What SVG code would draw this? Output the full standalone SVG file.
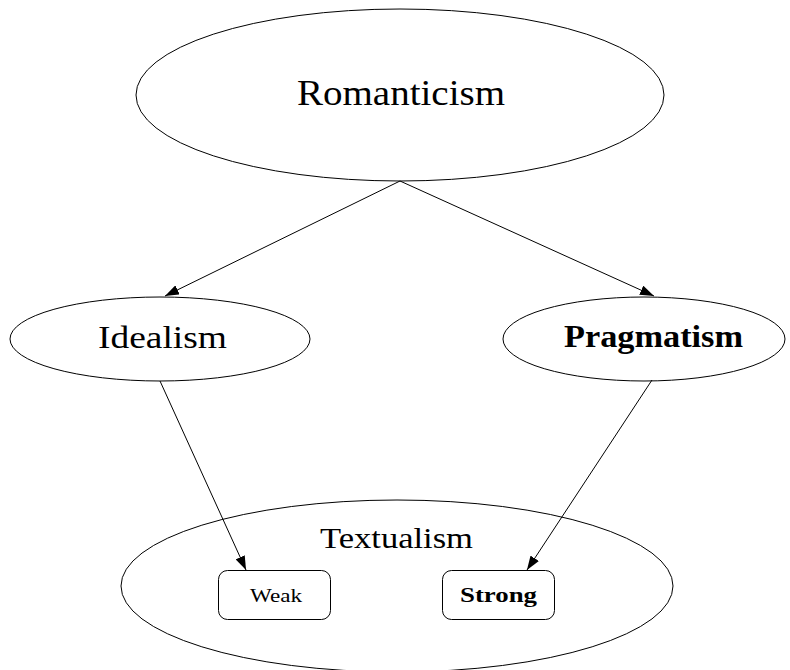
<svg xmlns="http://www.w3.org/2000/svg" width="790" height="670" viewBox="0 0 790 670">
<style>
.n{fill:none;stroke:#000;stroke-width:1}
.t{font-family:'Liberation Serif','Times New Roman',serif;fill:#000;text-anchor:middle}
.b{font-weight:bold}
.e{stroke:#000;stroke-width:1;fill:none}
</style>
<defs>
<marker id="a" markerWidth="14" markerHeight="10" refX="14" refY="5" orient="auto" markerUnits="userSpaceOnUse">
<path d="M0,0 L14,5 L0,10 Z" fill="#000"/>
</marker>
</defs>
<rect width="790" height="670" fill="#fff"/>
<g id="textualism">
<ellipse class="n" cx="397" cy="586" rx="276" ry="86"/>
<text class="t" x="396.5" y="548" font-size="30" textLength="153" lengthAdjust="spacingAndGlyphs">Textualism</text>
</g>
<g id="romanticism">
<ellipse class="n" cx="400" cy="95" rx="264" ry="86"/>
<text class="t" x="401" y="105" font-size="35" textLength="208" lengthAdjust="spacingAndGlyphs">Romanticism</text>
</g>
<g id="idealism">
<ellipse class="n" cx="160" cy="339" rx="150" ry="42"/>
<text class="t" x="162.5" y="348" font-size="31" textLength="129" lengthAdjust="spacingAndGlyphs">Idealism</text>
</g>
<g id="pragmatism">
<ellipse class="n" cx="644" cy="339" rx="141" ry="42"/>
<text class="t b" x="653.5" y="347" font-size="31" textLength="179" lengthAdjust="spacingAndGlyphs">Pragmatism</text>
</g>
<g id="weak">
<rect class="n" x="218.5" y="570.5" width="112" height="49" rx="9"/>
<text class="t" x="276" y="602" font-size="18" textLength="52" lengthAdjust="spacingAndGlyphs">Weak</text>
</g>
<g id="strong">
<rect class="n" x="442.5" y="570.5" width="112" height="49" rx="9"/>
<text class="t b" x="498.5" y="602" font-size="21" textLength="77" lengthAdjust="spacingAndGlyphs">Strong</text>
</g>
<g id="edges">
<line class="e" x1="400" y1="181" x2="165" y2="296" marker-end="url(#a)"/>
<line class="e" x1="400" y1="181" x2="654" y2="296" marker-end="url(#a)"/>
<line class="e" x1="160" y1="381" x2="246" y2="570" marker-end="url(#a)"/>
<line class="e" x1="652" y1="380" x2="527" y2="570" marker-end="url(#a)"/>
</g>
</svg>
